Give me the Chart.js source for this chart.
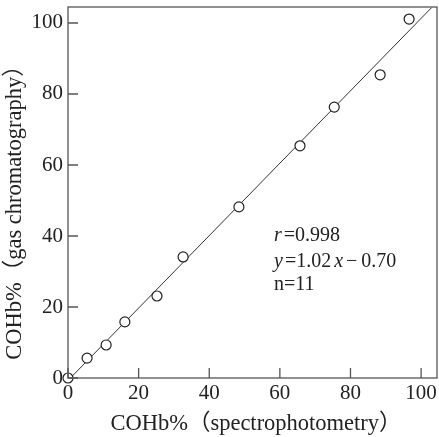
<!DOCTYPE html>
<html>
<head>
<meta charset="utf-8">
<script src="https://cdn.jsdelivr.net/npm/chart.js@4"></script>
<style>
  html, body { margin: 0; padding: 0; background: #fff; overflow: hidden; }
</style>
</head>
<body>
<canvas id="coChart" width="439" height="437"></canvas>
<script>
// spectrophotometry (x) vs gas chromatography (y), COHb %
var xSpectro = [0, 5.4, 10.8, 16.1, 25.2, 32.6, 48.4, 65.7, 75.4, 88.4, 96.6];
var yGasChrom = [0, 5.6, 9.3, 15.8, 23.1, 34.1, 48.2, 65.4, 76.3, 85.4, 101.1];
var tickValues = [0, 20, 40, 60, 80, 100];
var slope = 1.02;
var intercept = -0.70;
var lineRange = [0.7, 103];

var serif = '"Liberation Serif", "DejaVu Serif", serif';
var titleFont = '22.5px "Liberation Serif", "Noto Sans CJK JP", serif';

var points = [];
for (var i = 0; i < xSpectro.length; i++) {
  points.push({ x: xSpectro[i], y: yGasChrom[i] });
}
var fitLine = [];
for (var j = 0; j < lineRange.length; j++) {
  fitLine.push({ x: lineRange[j], y: slope * lineRange[j] + intercept });
}

// frame, inward ticks, titles and the regression note
var framePlugin = {
  id: 'frame',
  afterDraw: function(chart) {
    var ctx = chart.ctx;
    var a = chart.chartArea;
    var xs = chart.scales.x, ys = chart.scales.y;
    ctx.save();
    ctx.strokeStyle = '#555';
    ctx.lineWidth = 1.3;
    ctx.strokeRect(a.left, a.top, a.right - a.left, a.bottom - a.top);

    ctx.beginPath();
    for (var i = 0; i < tickValues.length; i++) {
      var px = xs.getPixelForValue(tickValues[i]);
      ctx.moveTo(px, a.bottom);
      ctx.lineTo(px, a.bottom - 10);
      var py = ys.getPixelForValue(tickValues[i]);
      ctx.moveTo(a.left, py);
      ctx.lineTo(a.left + 10, py);
    }
    ctx.stroke();

    ctx.fillStyle = '#222';
    ctx.font = titleFont;
    ctx.textBaseline = 'middle';
    ctx.textAlign = 'center';
    ctx.fillText('COHb%（spectrophotometry）', 256, 424);
    ctx.save();
    ctx.translate(15, 207);
    ctx.rotate(-Math.PI / 2);
    ctx.fillText('COHb%（gas chromatography）', 0, 0);
    ctx.restore();

    // note: mixed italic / upright runs, [text, italic, gap after]
    var lines = [
      [['r', true, 2], ['=0.998', false, 0]],
      [['y', true, 2], ['=1.02', false, 3], ['x', true, 3], ['\u2212\u20090.70', false, 0]],
      [['n=11', false, 0]]
    ];
    var ys0 = [236, 262, 285];
    ctx.textAlign = 'left';
    for (var l = 0; l < lines.length; l++) {
      var cx = 274;
      for (var k = 0; k < lines[l].length; k++) {
        var run = lines[l][k];
        ctx.font = (run[1] ? 'italic ' : '') + '20px ' + serif;
        ctx.fillText(run[0], cx, ys0[l]);
        cx += ctx.measureText(run[0]).width + run[2];
      }
    }
    ctx.restore();
  }
};

var chart = new Chart(document.getElementById('coChart'), {
  type: 'scatter',
  data: {
    datasets: [
      {
        data: points,
        pointRadius: 5,
        pointBorderWidth: 1.2,
        pointBorderColor: '#222',
        pointBackgroundColor: '#fff',
        clip: false,
        order: 1
      },
      {
        type: 'line',
        data: fitLine,
        borderColor: '#333',
        borderWidth: 1,
        pointRadius: 0,
        fill: false,
        order: 2
      }
    ]
  },
  options: {
    responsive: false,
    animation: false,
    layout: { autoPadding: false, padding: { top: 7, right: 2, left: 0, bottom: 0 } },
    plugins: { legend: { display: false }, tooltip: { enabled: false } },
    scales: {
      x: {
        type: 'linear',
        min: 0,
        max: 104.5,
        afterBuildTicks: function(s) { s.ticks = tickValues.map(function(v) { return { value: v }; }); },
        afterFit: function(s) { s.height = 59; s.paddingLeft = 0; s.paddingRight = 0; },
        grid: { display: false, drawTicks: false },
        border: { display: false },
        ticks: { color: '#222', font: { family: serif, size: 21 }, padding: 3, maxRotation: 0 }
      },
      y: {
        type: 'linear',
        min: 0,
        max: 104.5,
        afterBuildTicks: function(s) { s.ticks = tickValues.map(function(v) { return { value: v }; }); },
        afterFit: function(s) { s.width = 68; s.paddingTop = 0; s.paddingBottom = 0; },
        grid: { display: false, drawTicks: false },
        border: { display: false },
        ticks: { color: '#222', font: { family: serif, size: 21 }, padding: 5 }
      }
    }
  },
  plugins: [framePlugin]
});
</script>
</body>
</html>
